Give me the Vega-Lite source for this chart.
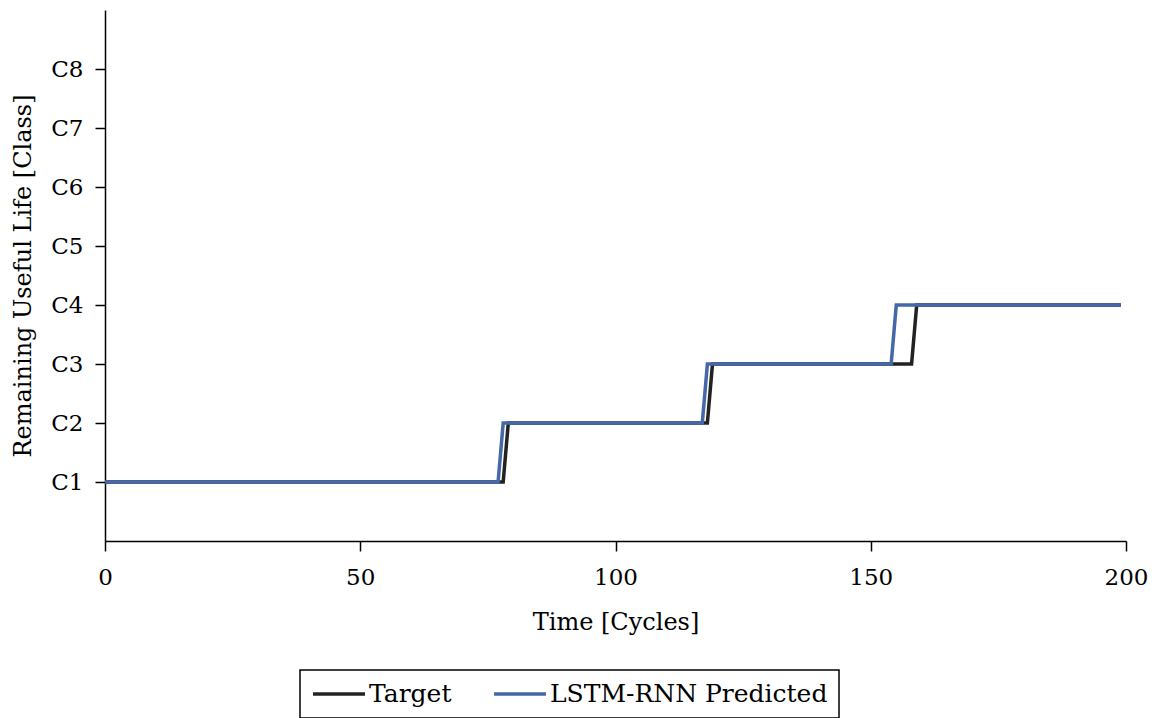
{
  "$schema": "https://vega.github.io/schema/vega-lite/v6.json",
  "width": 1021,
  "height": 531,
  "autosize": {"type": "none"},
  "padding": {"left": 105, "top": 10, "right": 35, "bottom": 177},
  "background": "white",
  "config": {
    "font": "DejaVu Serif",
    "view": {"stroke": null},
    "axis": {
      "grid": false,
      "domainColor": "#000",
      "domainWidth": 1.5,
      "tickColor": "#000",
      "tickWidth": 1.5,
      "tickSize": 10,
      "labelColor": "#000",
      "titleColor": "#000",
      "labelFont": "DejaVu Serif",
      "titleFont": "DejaVu Serif",
      "labelFontSize": 23,
      "titleFontSize": 24,
      "titleFontWeight": "normal"
    },
    "legend": {
      "labelFont": "DejaVu Serif",
      "labelFontSize": 25,
      "labelColor": "#000",
      "labelLimit": 0
    }
  },
  "data": {
    "values": [
      {"series": "Target", "cycle": 0, "cls": 1},
      {"series": "Target", "cycle": 78, "cls": 1},
      {"series": "Target", "cycle": 79, "cls": 2},
      {"series": "Target", "cycle": 118, "cls": 2},
      {"series": "Target", "cycle": 119, "cls": 3},
      {"series": "Target", "cycle": 158, "cls": 3},
      {"series": "Target", "cycle": 159, "cls": 4},
      {"series": "Target", "cycle": 199, "cls": 4},
      {"series": "LSTM-RNN Predicted", "cycle": 0, "cls": 1},
      {"series": "LSTM-RNN Predicted", "cycle": 77, "cls": 1},
      {"series": "LSTM-RNN Predicted", "cycle": 78, "cls": 2},
      {"series": "LSTM-RNN Predicted", "cycle": 117, "cls": 2},
      {"series": "LSTM-RNN Predicted", "cycle": 118, "cls": 3},
      {"series": "LSTM-RNN Predicted", "cycle": 154, "cls": 3},
      {"series": "LSTM-RNN Predicted", "cycle": 155, "cls": 4},
      {"series": "LSTM-RNN Predicted", "cycle": 199, "cls": 4}
    ]
  },
  "mark": {"type": "line", "strokeWidth": 3.5, "strokeCap": "butt", "strokeJoin": "miter"},
  "encoding": {
    "x": {
      "field": "cycle",
      "type": "quantitative",
      "scale": {"domain": [0, 200], "nice": false, "zero": false},
      "axis": {"values": [0, 50, 100, 150, 200], "title": "Time [Cycles]", "labelPadding": 15, "titlePadding": 21, "labelFlush": false}
    },
    "y": {
      "field": "cls",
      "type": "quantitative",
      "scale": {"domain": [0, 9], "nice": false},
      "axis": {
        "values": [1, 2, 3, 4, 5, 6, 7, 8],
        "labelExpr": "'C' + datum.value",
        "title": "Remaining Useful Life [Class]",
        "labelPadding": 12,
        "titlePadding": 15
      }
    },
    "color": {
      "field": "series",
      "type": "nominal",
      "sort": ["Target", "LSTM-RNN Predicted"],
      "scale": {"domain": ["Target", "LSTM-RNN Predicted"], "range": ["#222222", "#4468a8"]},
      "legend": {
        "title": null,
        "orient": "none",
        "legendX": 195,
        "legendY": 660,
        "direction": "horizontal",
        "strokeColor": "#000",
        "padding": 11,
        "clipHeight": 26,
        "symbolType": "stroke",
        "symbolSize": 2700,
        "symbolStrokeWidth": 3.5,
        "labelOffset": 2,
        "columnPadding": 40,
        "encode": {"legend": {"update": {"strokeWidth": {"value": 1.5}}}}
      }
    },
    "order": {"field": "cycle", "type": "quantitative"}
  }
}
